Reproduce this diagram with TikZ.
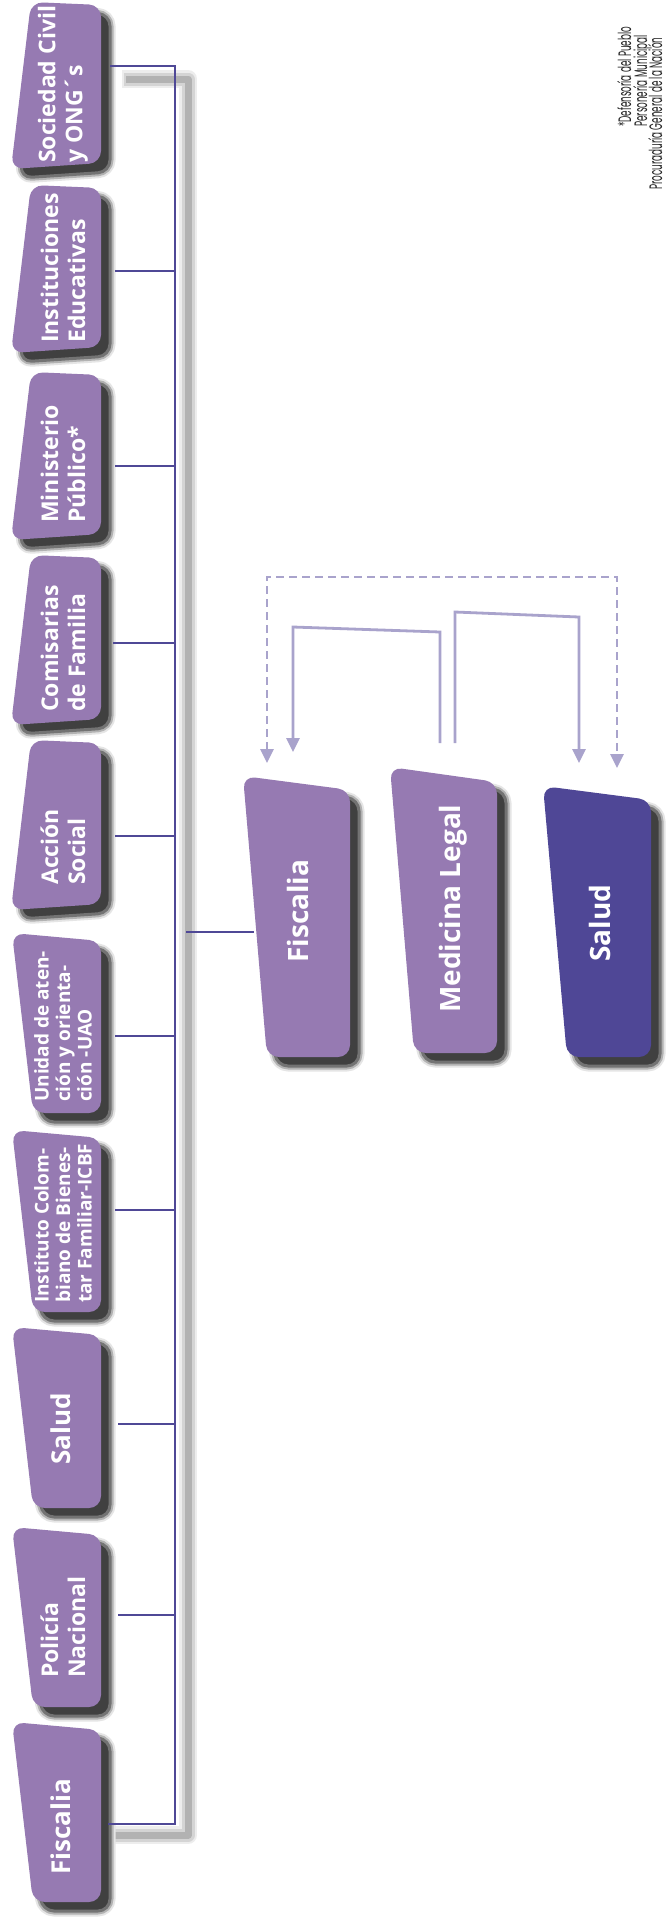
\documentclass[tikz,border=0pt]{standalone}
\usepackage{fontspec}
\setmainfont{Open Sans}
\newfontfamily\notefont{Poppins}
\usetikzlibrary{arrows.meta}
\definecolor{boxlight}{HTML}{967AB2}
\definecolor{boxdark}{HTML}{4F4796}
\definecolor{linedark}{HTML}{4F4896}
\definecolor{arrowlight}{HTML}{A9A3CC}
\newcommand{\orgbox}[5]{%
  \begin{scope}[shift={(9,9)}]
    \draw[line width=11, black!10, rounded corners=12, line join=round] #2 -- #3 -- #4 -- #5 -- cycle;
    \draw[line width=7, black!30, rounded corners=12, line join=round] #2 -- #3 -- #4 -- #5 -- cycle;
    \filldraw[fill=black!75, draw=black!55, line width=3, rounded corners=12, line join=round] #2 -- #3 -- #4 -- #5 -- cycle;
  \end{scope}
  \fill[#1, rounded corners=12] #2 -- #3 -- #4 -- #5 -- cycle;
}
\newcommand{\boxA}[2]{\orgbox{boxlight}{(31,#1)}{(101,#1+3)}{(101,#2-6)}{(11,#2)}}
\newcommand{\boxB}[2]{\orgbox{boxlight}{(12,#1)}{(101,#1+8)}{(101,#2)}{(33,#2)}}
\newcommand{\notetext}[1]{\scalebox{0.49}[1]{#1}}
\tikzset{
  lbl/.style={rotate=90, anchor=west, inner sep=0pt, align=left, text=white,
    font=\bfseries\fontsize{23}{27}\selectfont},
  lblthree/.style={lbl, font=\bfseries\fontsize{19}{21.5}\selectfont},
  lblone/.style={lbl, anchor=base west, font=\bfseries\fontsize{26}{30}\selectfont},
  lblbig/.style={lbl, anchor=base west, font=\bfseries\fontsize{28}{32}\selectfont},
  busline/.style={draw=linedark, line width=2.6},
  relarrow/.style={draw=arrowlight, line width=2.8, -{Triangle[length=14pt,width=13pt]}},
  dasharrow/.style={draw=arrowlight, line width=2.8, dash pattern=on 8pt off 5pt,
    {Triangle[length=14pt,width=13pt]}-{Triangle[length=14pt,width=13pt]}},
  note/.style={rotate=90, anchor=base west, inner sep=0pt, font=\notefont\fontsize{18}{20}\selectfont, text=black!85},
}
\begin{document}
\begin{tikzpicture}[x=1pt,y=-1pt]
\useasboundingbox (0,0) rectangle (665,1923);
\fill[white] (0,0) rectangle (665,1923);

% shadow of the bracket connector
\draw[black!7, line width=18, line join=round] (122,79) -- (188,79) -- (188,1835) -- (110,1835);
\draw[black!17, line width=13, line join=round] (124,79) -- (188,79) -- (188,1835) -- (112,1835);
\draw[black!30, line width=7, line join=round] (126,79) -- (188,79) -- (188,1835) -- (114,1835);

% left column boxes
\boxA{2}{169}
\boxA{185}{353}
\boxA{372}{540}
\boxA{555}{725}
\boxA{740}{910}
\boxB{933}{1113}
\boxB{1130}{1312}
\boxB{1327}{1508}
\boxB{1527}{1707}
\boxB{1722}{1902}

% central boxes
\orgbox{boxlight}{(243,776)}{(350,790)}{(350,1057)}{(267,1057)}
\orgbox{boxlight}{(390,767)}{(497,782)}{(497,1053)}{(414,1053)}
\orgbox{boxdark}{(543,786)}{(651,800)}{(651,1057)}{(567,1057)}

% labels
\node[lbl] (soc) at (63,163) {Sociedad Civil\\y ONG´s};
\node[lbl] (ins) at (63,343) {Instituciones\\Educativas};
\node[lbl] (min) at (63,523) {Ministerio\\Público*};
\node[lbl] (com) at (63,712) {Comisarias\\de Familia};
\node[lbl] (acc) at (63,885) {Acción\\Social};
\node[lblthree] (uni) at (63,1102) {Unidad de aten-\\ción y orienta-\\ción -UAO};
\node[lblthree] (icb) at (63,1303) {Instituto Colom-\\biano de Bienes-\\tar Familiar-ICBF};
\node[lblone] (sal) at (70,1465) {Salud};
\node[lbl] (pol) at (63,1678) {Policía\\Nacional};
\node[lblone] (fis) at (70,1875) {Fiscalia};

\node[lblbig] (cfis) at (308,963) {Fiscalia};
\node[lblbig] (cmed) at (460,1013) {Medicina Legal};
\node[lblbig] (csal) at (610,962) {Salud};

% connector anchor points
\coordinate (bus) at (175,0);
\coordinate (r-soc) at (110,66);
\coordinate (r-ins) at (115,271);
\coordinate (r-min) at (115,466);
\coordinate (r-com) at (113,643);
\coordinate (r-acc) at (115,836);
\coordinate (r-uni) at (115,1036);
\coordinate (r-icb) at (115,1210);
\coordinate (r-sal) at (118,1424);
\coordinate (r-pol) at (118,1615);
\coordinate (r-fis) at (108,1824);
\coordinate (c-start) at (186,932);
\coordinate (cfis-l) at (254,932);

\draw[busline] (r-soc) -- (r-soc -| bus) -- (r-fis -| bus) -- (r-fis);
\foreach \n in {ins,min,com,acc,uni,icb,sal,pol}
  \draw[busline] (r-\n) -- (r-\n -| bus);
\draw[busline] (c-start) -- (cfis-l);

% relations between central boxes
\coordinate (dtop) at (0,577);
\coordinate (cfis-d) at (267,763);
\coordinate (csal-d) at (617,768);
\draw[dasharrow] (cfis-d) -- (cfis-d |- dtop) -- (csal-d |- dtop) -- (csal-d);

\coordinate (cmed-a) at (440,743);
\coordinate (cmed-a1) at (440,632);
\coordinate (cfis-a1) at (293,627);
\coordinate (cfis-a) at (293,752);
\draw[relarrow] (cmed-a) -- (cmed-a1) -- (cfis-a1) -- (cfis-a);

\coordinate (cmed-b) at (455,743);
\coordinate (cmed-b1) at (455,612);
\coordinate (csal-b1) at (579,617);
\coordinate (csal-b) at (579,763);
\draw[relarrow] (cmed-b) -- (cmed-b1) -- (csal-b1) -- (csal-b);

% footnote
\node[note] (n1) at (631,127) {\notetext{*Defensoría del Pueblo}};
\node[note] (n2) at (647,127) {\notetext{Personería Municipal}};
\node[note] (n3) at (662,190) {\notetext{Procuraduría General de la Nación}};
\end{tikzpicture}
\end{document}
